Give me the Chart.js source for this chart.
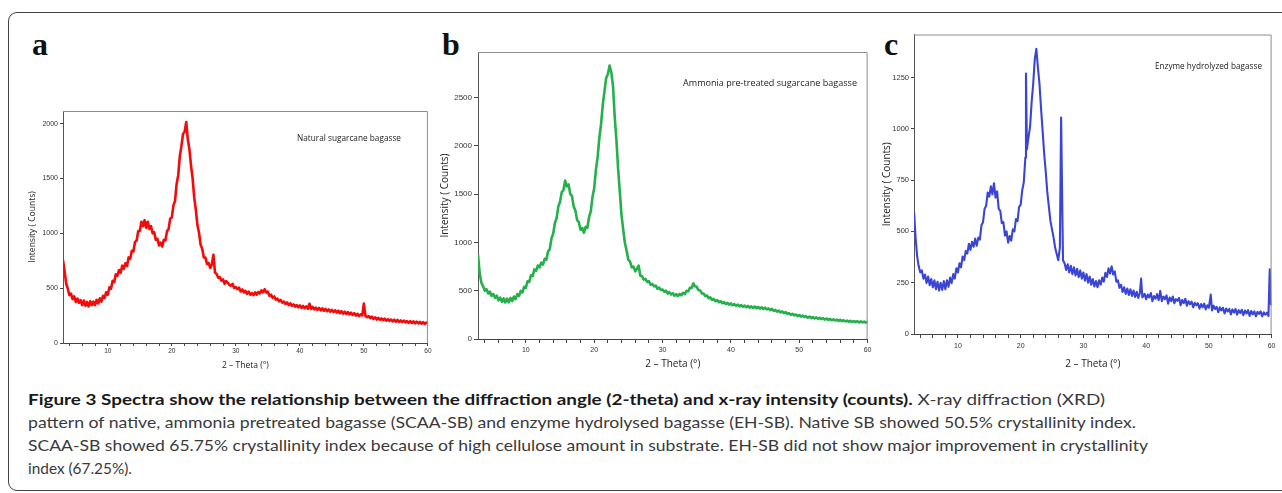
<!DOCTYPE html>
<html>
<head>
<meta charset="utf-8">
<script src="https://cdn.jsdelivr.net/npm/chart.js@4.4.1/dist/chart.umd.min.js"></script>
<style>
    html, body { margin: 0; padding: 0; background: #fff; }
    body { width: 1282px; height: 493px; position: relative; overflow: hidden; font-family: Lato, sans-serif; }
    .frame { position: absolute; left: 8px; top: 12px; width: 1300px; height: 479px; border: 1.5px solid #444; border-radius: 9px; box-sizing: border-box; }
    .tag { position: absolute; top: 28px; font-family: "Liberation Serif", serif; font-weight: bold; font-size: 32px; line-height: 1; color: #111; }
    canvas { position: absolute; }
    .note { position: absolute; font-family: "Open Sans", sans-serif; color: #222; white-space: nowrap; line-height: 12px; transform-origin: 0 50%; }
    .cap { position: absolute; left: 28px; height: 20px; line-height: 20px; white-space: nowrap; font-size: 16px; color: #3a3a3a; transform-origin: 0 50%; }
    .cap b { color: #1a1a1a; }
</style>
</head>
<body>
<div class="frame"></div>

<div class="tag" style="left:32px">a</div>
<div class="tag" style="left:442px">b</div>
<div class="tag" style="left:884px">c</div>

<canvas id="chartA" width="413" height="277" style="left:20px;top:103px"></canvas>
<canvas id="chartB" width="441" height="335" style="left:433px;top:44px"></canvas>
<canvas id="chartC" width="405" height="351" style="left:874px;top:28px"></canvas>

<div class="note" data-w="104" style="left:297px;top:132px;font-size:8.5px">Natural sugarcane bagasse</div>
<div class="note" data-w="174" style="left:683px;top:77px;font-size:9.5px">Ammonia pre-treated sugarcane bagasse</div>
<div class="note" data-w="107" style="left:1155px;top:60px;font-size:9px">Enzyme hydrolyzed bagasse</div>

<div class="cap" data-w="1077" style="top:389px"><b>Figure 3 Spectra show the relationship between the diffraction angle (2-theta) and x-ray intensity (counts).</b> X-ray diffraction (XRD)</div>
<div class="cap" data-w="1108" style="top:412px">pattern of native, ammonia pretreated bagasse (SCAA-SB) and enzyme hydrolysed bagasse (EH-SB). Native SB showed 50.5% crystallinity index.</div>
<div class="cap" data-w="1120" style="top:435px">SCAA-SB showed 65.75% crystallinity index because of high cellulose amount in substrate. EH-SB did not show major improvement in crystallinity</div>
<div class="cap" data-w="104" style="top:458px">index (67.25%).</div>

<script>
// XRD data: [2-theta (deg), intensity (counts)]
const naturalSB = [
    [3,755],[3.25,655],[3.5,540],[3.75,495],[4,435],[4.25,450],[4.5,400],[4.75,425],[5,375],[5.25,405],
    [5.5,367],[5.75,390],[6,345],[6.25,387],[6.5,340],[6.75,375],[7,333],[7.25,380],[7.5,345],[7.75,377],
    [8,345],[8.25,393],[8.5,360],[8.75,407],[9,377],[9.25,430],[9.5,410],[9.75,463],[10,440],[10.25,507],
    [10.5,495],[10.75,567],[11,555],[11.25,627],[11.5,613],[11.75,665],[12,640],[12.25,705],[12.5,675],[12.75,727],
    [13,703],[13.25,780],[13.5,767],[13.75,840],[14,835],[14.25,920],[14.5,935],[14.75,1020],[15,1020],[15.25,1105],
    [15.5,1065],[15.75,1120],[16,1050],[16.25,1105],[16.5,1040],[16.75,1065],[17,1000],[17.25,1010],[17.5,940],[17.75,950],
    [18,890],[18.25,915],[18.5,880],[18.75,940],[19,935],[19.25,1020],[19.5,1040],[19.75,1135],[20,1145],[20.25,1255],
    [20.5,1295],[20.75,1450],[21,1530],[21.25,1705],[21.5,1795],[21.75,1905],[22,1925],[22.25,2015],[22.5,1855],[22.75,1765],
    [23,1615],[23.25,1500],[23.5,1325],[23.75,1215],[24,1075],[24.25,1005],[24.5,895],[24.75,860],[25,780],[25.25,780],
    [25.5,720],[25.75,730],[26,685],[26.25,715],[26.5,805],[26.75,640],[27,630],[27.25,595],[27.5,600],[27.75,568],
    [28,580],[28.25,540],[28.5,565],[28.75,548],[29,530],[29.25,522],[29.5,538],[29.75,500],[30,510],[30.25,490],
    [30.5,505],[30.75,470],[31,488],[31.25,462],[31.5,476],[31.75,448],[32,468],[32.25,440],[32.5,455],[32.75,436],
    [33,462],[33.25,440],[33.5,465],[33.75,452],[34,480],[34.25,462],[34.5,490],[34.75,460],[35,468],[35.25,430],
    [35.5,440],[35.75,412],[36,424],[36.25,396],[36.5,404],[36.75,380],[37,392],[37.25,368],[37.5,378],[37.75,356],
    [38,370],[38.25,346],[38.5,362],[38.75,340],[39,352],[39.25,332],[39.5,346],[39.75,326],[40,342],[40.25,320],
    [40.5,338],[40.75,318],[41,334],[41.25,312],[41.5,358],[41.75,310],[42,330],[42.25,306],[42.5,322],[42.75,302],
    [43,320],[43.25,298],[43.5,316],[43.75,294],[44,310],[44.25,290],[44.5,306],[44.75,286],[45,302],[45.25,282],
    [45.5,298],[45.75,278],[46,294],[46.25,272],[46.5,290],[46.75,268],[47,285],[47.25,265],[47.5,282],[47.75,260],
    [48,276],[48.25,256],[48.5,272],[48.75,250],[49,266],[49.25,246],[49.5,262],[49.75,252],[50,360],[50.25,246],
    [50.5,236],[50.75,246],[51,226],[51.25,240],[51.5,220],[51.75,234],[52,214],[52.25,230],[52.5,212],[52.75,224],
    [53,208],[53.25,222],[53.5,204],[53.75,218],[54,202],[54.25,214],[54.5,198],[54.75,212],[55,194],[55.25,210],
    [55.5,192],[55.75,206],[56,190],[56.25,204],[56.5,188],[56.75,200],[57,184],[57.25,200],[57.5,182],[57.75,196],
    [58,180],[58.25,194],[58.5,178],[58.75,192],[59,176],[59.25,190],[59.5,174],[59.75,186],[60,178]
];

const ammoniaSB = [
    [3,870],[3.25,680],[3.5,580],[3.75,545],[4,500],[4.25,515],[4.5,470],[4.75,490],[5,445],[5.25,465],
    [5.5,425],[5.75,448],[6,400],[6.25,428],[6.5,385],[6.75,420],[7,378],[7.25,418],[7.5,380],[7.75,425],
    [8,392],[8.25,440],[8.5,412],[8.75,465],[9,445],[9.25,498],[9.5,482],[9.75,540],[10,530],[10.25,598],
    [10.5,592],[10.75,660],[11,650],[11.25,720],[11.5,705],[11.75,760],[12,740],[12.25,790],[12.5,770],[12.75,830],
    [13,820],[13.25,905],[13.5,930],[13.75,1040],[14,1090],[14.25,1200],[14.5,1250],[14.75,1370],[15,1420],[15.25,1520],
    [15.5,1540],[15.75,1640],[16,1580],[16.25,1600],[16.5,1500],[16.75,1480],[17,1370],[17.25,1330],[17.5,1230],[17.75,1210],
    [18,1130],[18.25,1150],[18.5,1100],[18.75,1160],[19,1150],[19.25,1260],[19.5,1320],[19.75,1470],[20,1560],[20.25,1750],
    [20.5,1880],[20.75,2080],[21,2220],[21.25,2420],[21.5,2560],[21.75,2700],[22,2740],[22.25,2830],[22.5,2760],[22.75,2620],
    [23,2300],[23.25,2060],[23.5,1760],[23.75,1520],[24,1280],[24.25,1130],[24.5,990],[24.75,910],[25,820],[25.25,800],
    [25.5,740],[25.75,750],[26,700],[26.25,725],[26.5,760],[26.75,655],[27,650],[27.25,615],[27.5,622],[27.75,590],
    [28,598],[28.25,562],[28.5,570],[28.75,545],[29,552],[29.25,520],[29.5,532],[29.75,508],[30,512],[30.25,488],
    [30.5,500],[30.75,470],[31,486],[31.25,460],[31.5,474],[31.75,448],[32,464],[32.25,444],[32.5,466],[32.75,452],
    [33,478],[33.25,465],[33.5,498],[33.75,492],[34,530],[34.25,528],[34.5,575],[34.75,545],[35,540],[35.25,506],
    [35.5,502],[35.75,472],[36,470],[36.25,444],[36.5,450],[36.75,422],[37,430],[37.25,404],[37.5,414],[37.75,392],
    [38,402],[38.25,380],[38.5,392],[38.75,370],[39,382],[39.25,362],[39.5,374],[39.75,355],[40,368],[40.25,349],
    [40.5,361],[40.75,344],[41,356],[41.25,338],[41.5,351],[41.75,333],[42,346],[42.25,329],[42.5,342],[42.75,325],
    [43,338],[43.25,321],[43.5,336],[43.75,318],[44,332],[44.25,314],[44.5,328],[44.75,311],[45,324],[45.25,306],
    [45.5,318],[45.75,299],[46,311],[46.25,292],[46.5,302],[46.75,283],[47,294],[47.25,275],[47.5,286],[47.75,267],
    [48,278],[48.25,259],[48.5,268],[48.75,251],[49,261],[49.25,244],[49.5,254],[49.75,238],[50,248],[50.25,232],
    [50.5,242],[50.75,227],[51,236],[51.25,221],[51.5,232],[51.75,216],[52,228],[52.25,212],[52.5,224],[52.75,208],
    [53,220],[53.25,204],[53.5,216],[53.75,201],[54,212],[54.25,198],[54.5,208],[54.75,194],[55,204],[55.25,191],
    [55.5,201],[55.75,188],[56,198],[56.25,184],[56.5,194],[56.75,181],[57,191],[57.25,178],[57.5,188],[57.75,176],
    [58,186],[58.25,174],[58.5,184],[58.75,172],[59,182],[59.25,171],[59.5,181],[59.75,170],[60,178]
];

const enzymeSB = [
    [3,600],[3.25,470],[3.5,380],[3.75,330],[4,300],[4.25,310],[4.5,270],[4.75,290],[5,248],[5.25,280],
    [5.5,238],[5.75,268],[6,228],[6.25,262],[6.5,218],[6.75,255],[7,212],[7.25,250],[7.5,215],[7.75,258],
    [8,218],[8.25,262],[8.5,230],[8.75,275],[9,248],[9.25,292],[9.5,270],[9.75,320],[10,300],[10.25,345],
    [10.5,325],[10.75,378],[11,360],[11.25,405],[11.5,392],[11.75,440],[12,410],[12.25,450],[12.5,425],[12.75,465],
    [13,430],[13.25,470],[13.5,460],[13.75,530],[14,545],[14.25,610],[14.5,625],[14.75,690],[15,670],[15.25,720],
    [15.5,680],[15.75,735],[16,665],[16.25,695],[16.5,610],[16.75,600],[17,540],[17.25,545],[17.5,480],[17.75,500],
    [18,445],[18.25,478],[18.5,455],[18.75,510],[19,500],[19.25,560],[19.5,550],[19.75,620],[20,630],[20.25,700],
    [20.5,740],[20.75,860],[20.85,1270],[21,900],[21.25,960],[21.5,1010],[21.75,1130],[22,1220],[22.25,1340],[22.5,1390],
    [22.75,1300],[23,1220],[23.25,1100],[23.5,990],[23.75,880],[24,790],[24.25,690],[24.5,620],[24.75,550],[25,510],
    [25.25,470],[25.5,420],[25.75,390],[26,360],[26.25,420],[26.45,1055],[26.6,700],[26.75,360],[27,345],[27.25,312],
    [27.5,340],[27.75,300],[28,332],[28.25,292],[28.5,325],[28.75,285],[29,318],[29.25,278],[29.5,310],[29.75,270],
    [30,300],[30.25,260],[30.5,292],[30.75,250],[31,280],[31.25,240],[31.5,268],[31.75,232],[32,258],[32.25,228],
    [32.5,262],[32.75,240],[33,275],[33.25,255],[33.5,298],[33.75,278],[34,320],[34.25,295],[34.5,330],[34.75,290],
    [35,305],[35.25,255],[35.5,262],[35.75,225],[36,240],[36.25,205],[36.5,228],[36.75,195],[37,222],[37.25,190],
    [37.5,218],[37.75,185],[38,212],[38.25,180],[38.5,206],[38.75,176],[39,200],[39.2,270],[39.4,178],[39.75,196],
    [40,170],[40.25,192],[40.5,178],[40.75,200],[41,160],[41.25,185],[41.5,172],[41.75,194],[42,165],[42.25,210],
    [42.5,160],[42.75,182],[43,170],[43.25,188],[43.5,148],[43.75,178],[44,160],[44.25,183],[44.5,150],[44.75,170],
    [45,162],[45.25,176],[45.5,140],[45.75,166],[46,150],[46.25,172],[46.5,138],[46.75,160],[47,145],[47.25,158],
    [47.5,130],[47.75,152],[48,140],[48.25,150],[48.5,124],[48.75,146],[49,130],[49.25,148],[49.5,120],[49.75,140],
    [50,128],[50.3,192],[50.5,115],[50.75,138],[51,122],[51.25,132],[51.5,106],[51.75,130],[52,115],[52.25,128],
    [52.5,100],[52.75,124],[53,110],[53.25,122],[53.5,96],[53.75,120],[54,104],[54.25,122],[54.5,94],[54.75,116],
    [55,102],[55.25,118],[55.5,92],[55.75,114],[56,100],[56.25,116],[56.5,88],[56.75,112],[57,96],[57.25,110],
    [57.5,86],[57.75,108],[58,98],[58.25,110],[58.5,86],[58.75,106],[59,94],[59.25,104],[59.5,88],[59.7,315],
    [59.85,150],[60,140]
];

// Axis ticks (minor marks every 2 deg, labels every 10 deg)
const thetaTicks = [4,6,8,10,12,14,16,18,20,22,24,26,28,30,32,34,36,38,40,42,44,46,48,50,52,54,56,58,60];
const countTicksA = [0,500,1000,1500,2000];
const countTicksB = [0,500,1000,1500,2000,2500];
const countTicksC = [0,250,500,750,1000,1250];

// Grey frame on the top and right of each plot area
const plotFrame = {
    id: 'plotFrame',
    afterDraw(chart) {
        const { ctx, chartArea: a } = chart;
        ctx.save();
        ctx.strokeStyle = '#8c8c8c';
        ctx.lineWidth = 1;
        ctx.beginPath();
        ctx.moveTo(a.left, a.top + 0.5);
        ctx.lineTo(a.right - 0.5, a.top + 0.5);
        ctx.lineTo(a.right - 0.5, a.bottom);
        ctx.stroke();
        ctx.restore();
    }
};

function makePanel(id, points, color, cfg) {
    const ctx = document.getElementById(id);
    return new Chart(ctx, {
        type: 'line',
        data: {
            datasets: [{
                data: points.map(([x, y]) => ({ x, y })),
                borderColor: color,
                borderWidth: cfg.lineW,
                borderJoinStyle: 'round',
                pointRadius: 0,
                tension: 0
            }]
        },
        options: {
            responsive: false,
            animation: false,
            devicePixelRatio: 1,
            layout: { padding: { top: cfg.padTop, right: cfg.padRight, left: 0, bottom: 0 } },
            plugins: { legend: { display: false }, tooltip: { enabled: false } },
            scales: {
                x: {
                    type: 'linear',
                    min: 3,
                    max: 60,
                    afterBuildTicks: (s) => { s.ticks = thetaTicks.map(v => ({ value: v })); },
                    afterFit: (s) => { s.height = cfg.xAxisH; },
                    ticks: {
                        autoSkip: false,
                        maxRotation: 0,
                        minRotation: 0,
                        padding: cfg.xTickPad,
                        color: '#333',
                        font: { family: 'Liberation Sans', size: cfg.xTickFont },
                        callback: (v) => (v % 10 === 0 ? String(v) : '')
                    },
                    grid: { drawOnChartArea: false, drawTicks: true, tickLength: cfg.xTickLen, color: '#444' },
                    border: { color: '#444', width: 1 },
                    title: {
                        display: true,
                        text: '2 – Theta (°)',
                        color: '#222',
                        font: { family: 'Open Sans', size: cfg.xTitleFont },
                        padding: { top: 0, bottom: cfg.xTitlePad }
                    }
                },
                y: {
                    min: 0,
                    max: cfg.yMax,
                    afterBuildTicks: (s) => { s.ticks = cfg.yTicks.map(v => ({ value: v })); },
                    afterFit: (s) => { s.width = cfg.yAxisW; },
                    ticks: {
                        autoSkip: false,
                        padding: cfg.yTickPad,
                        color: '#333',
                        font: { family: 'Liberation Sans', size: cfg.yTickFont },
                        callback: (v) => String(v)
                    },
                    grid: { drawOnChartArea: false, drawTicks: true, tickLength: cfg.yTickLen, color: '#444' },
                    border: { color: '#555', width: 1 },
                    title: {
                        display: true,
                        text: 'Intensity ( Counts)',
                        color: '#222',
                        font: { family: 'Open Sans', size: cfg.yTitleFont },
                        padding: { top: cfg.yTitlePad, bottom: 0 }
                    }
                }
            }
        },
        plugins: [plotFrame]
    });
}

// 1. Panels a, b, c
makePanel('chartA', naturalSB, '#f50a0a', {
    yMax: 2115, yTicks: countTicksA, padTop: 8, padRight: 3, yAxisW: 43, xAxisH: 37, lineW: 2.6,
    xTickFont: 6.5, xTickPad: 1.5, xTickLen: 3, yTickFont: 7, yTickPad: 2, yTickLen: 3,
    xTitleFont: 8.5, xTitlePad: 8.9, yTitleFont: 8.5, yTitlePad: 7.9
});
makePanel('chartB', ammoniaSB, '#25b04b', {
    yMax: 2970, yTicks: countTicksB, padTop: 8, padRight: 4, yAxisW: 45, xAxisH: 40, lineW: 2.6,
    xTickFont: 7, xTickPad: 2.5, xTickLen: 4, yTickFont: 8, yTickPad: 2, yTickLen: 4,
    xTitleFont: 10, xTitlePad: 9, yTitleFont: 10, yTitlePad: 6
});
makePanel('chartC', enzymeSB, '#3b45d3', {
    yMax: 1460, yTicks: countTicksC, padTop: 6, padRight: 6, yAxisW: 40, xAxisH: 45, lineW: 2.1,
    xTickFont: 7, xTickPad: 3.5, xTickLen: 4, yTickFont: 7.5, yTickPad: 2, yTickLen: 3,
    xTitleFont: 10, xTitlePad: 9, yTitleFont: 10, yTitlePad: 7
});

// 2. Stretch text lines to the widths measured on the figure
function fitWidths() {
    document.querySelectorAll('[data-w]').forEach(el => {
        const target = Number(el.dataset.w);
        const w = el.getBoundingClientRect().width;
        if (w > 0) el.style.transform = `scaleX(${(target / w).toFixed(4)})`;
    });
}
if (document.fonts && document.fonts.ready) document.fonts.ready.then(fitWidths);
else fitWidths();
</script>
</body>
</html>
